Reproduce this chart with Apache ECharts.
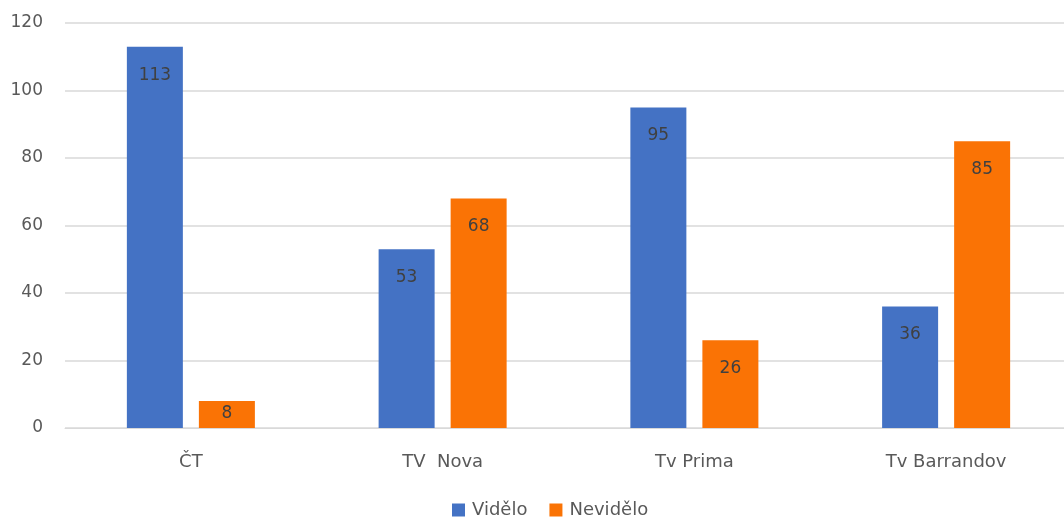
<!DOCTYPE html>
<html><head><meta charset="utf-8">
<script src="https://cdn.jsdelivr.net/npm/echarts@6/dist/echarts.min.js"></script>
<style>html,body{margin:0;padding:0;background:#fff;overflow:hidden}#c{width:1072px;height:518px}</style>
</head><body><div id="c"></div>
<script>
const categories = ['ČT', 'TV  Nova', 'Tv Prima', 'Tv Barrandov'];
const videlo = [113, 53, 95, 36];
const nevidelo = [8, 68, 26, 85];
const yTicks = {min: 0, max: 120, interval: 20};

const font = 'DejaVu Sans, sans-serif';
const chart = echarts.init(document.getElementById('c'));
const lbl = {show: true, position: 'insideTop', distance: 20, color: '#404040', fontSize: 17, fontFamily: font};
// short bars: label sits near the bar top
const withLabels = arr => arr.map(v => v < 15 ? {value: v, label: {distance: 4}} : v);
chart.setOption({
  animation: false,
  grid: {left: 65, right: 0, top: 23, bottom: 90, containLabel: false},
  legend: {
    top: 496, left: 447, itemWidth: 13, itemHeight: 13, itemGap: 22, icon: 'rect',
    textStyle: {color: '#595959', fontSize: 18, fontFamily: font, padding: [0, 0, 0, 2]},
    data: ['Vidělo', 'Nevidělo']
  },
  xAxis: {
    type: 'category', data: categories,
    axisLine: {lineStyle: {color: '#D9D9D9'}}, axisTick: {show: false},
    axisLabel: {color: '#595959', fontSize: 18, fontFamily: font, margin: 25}
  },
  yAxis: {
    type: 'value', min: yTicks.min, max: yTicks.max, interval: yTicks.interval,
    axisLine: {show: false}, axisTick: {show: false},
    splitLine: {lineStyle: {color: '#D9D9D9', width: 1.5}},
    axisLabel: {color: '#595959', fontSize: 17, fontFamily: font, margin: 22}
  },
  series: [
    {name: 'Vidělo', type: 'bar', data: withLabels(videlo), barWidth: 56, barGap: '28.6%',
     itemStyle: {color: '#4472C4'}, label: lbl},
    {name: 'Nevidělo', type: 'bar', data: withLabels(nevidelo), barWidth: 56,
     itemStyle: {color: '#FA7305'}, label: lbl}
  ]
});
</script></body></html>
